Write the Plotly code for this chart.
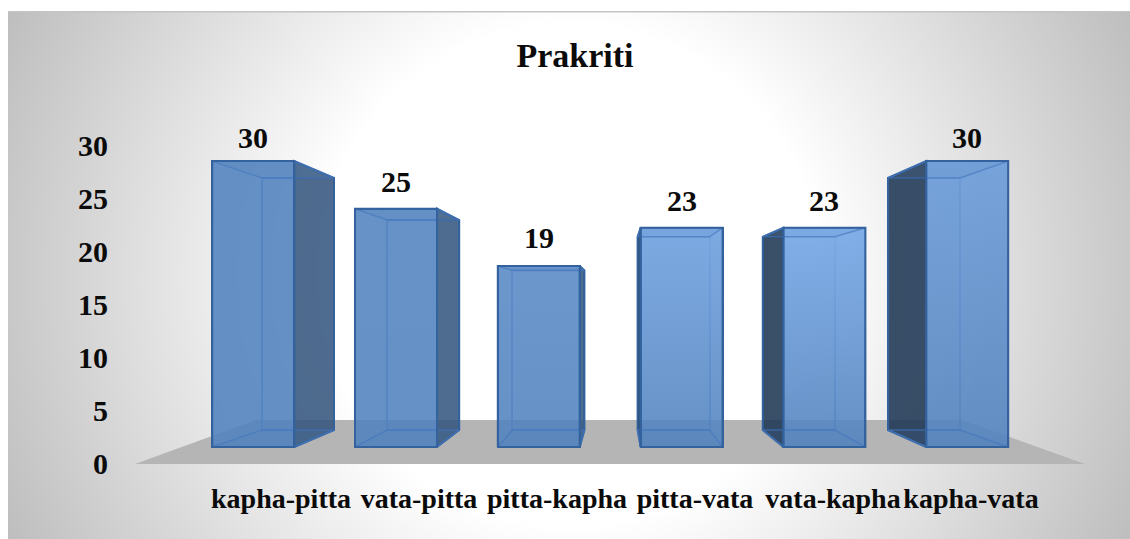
import base64
import plotly.graph_objects as go

categories = ["kapha-pitta", "vata-pitta", "pitta-kapha", "pitta-vata", "vata-kapha", "kapha-vata"]
values = [30, 25, 19, 23, 23, 30]
y_ticks = [0, 5, 10, 15, 20, 25, 30]
title_text = "Prakriti"
label_lift = [24, 27, 28, 27, 27, 24]
side_colors = ["rgba(53,86,126,.87)", "rgba(53,86,126,.87)", "rgba(53,86,126,.87)",
               "rgba(30,54,83,.87)", "rgba(30,54,83,.87)", "rgba(30,54,83,.87)"]
sheen = [0.0, 0.02, 0.12, 0.5, 0.6, 0.4]

W, H = 1130, 539
FONT = "Liberation Serif"
INK = "#0b0b0b"
EDGE = "#33629d"
INNER = "rgba(70,120,190,.65)"

# The 3-D look is three planes, each with its own linear scale (pixels per unit).
FRONT = dict(x0=253.2, dx=142.8, half=41.0, y0=447.0, sy=9.53)
BACK = dict(x0=298.0, dx=125.2, half=36.0, y0=430.0, sy=8.4)
AXIS = dict(x0=281.0, dx=138.0, y0=463.0, sy=10.6)


def xrange_of(p):
    return [(0 - p["x0"]) / p["dx"], (W - p["x0"]) / p["dx"]]


def yrange_of(p):
    return [(p["y0"] - H) / p["sy"], p["y0"] / p["sy"]]


def back_to_front(i, side, v):
    """A back-plane bar corner, re-expressed in front-plane axis units."""
    px = BACK["x0"] + BACK["dx"] * i + side * BACK["half"]
    py = BACK["y0"] - BACK["sy"] * v
    return (px - FRONT["x0"]) / FRONT["dx"], (FRONT["y0"] - py) / FRONT["sy"]


def front_corner(i, side, v):
    return i + side * FRONT["half"] / FRONT["dx"], v


def quad(a, b, c, d, fill, line, width, xa="x3", ya="y3"):
    xs, ys = zip(a, b, c, d, a)
    return go.Scatter(x=xs, y=ys, xaxis=xa, yaxis=ya, mode="lines", fill="toself",
                      fillcolor=fill, line=dict(color=line, width=width),
                      hoverinfo="skip", showlegend=False)


svg = f"""<svg xmlns="http://www.w3.org/2000/svg" width="{W}" height="{H}">
<defs><radialGradient id="g" gradientUnits="userSpaceOnUse" cx="569" cy="275" r="625">
<stop offset="0.4" stop-color="#ffffff"/><stop offset="1" stop-color="#bdbdbd"/></radialGradient></defs>
<rect width="{W}" height="{H}" fill="#ffffff"/>
<rect x="8" y="12" width="{W-8}" height="{H-12}" fill="url(#g)"/>
<rect x="8" y="11" width="{W-8}" height="1.5" fill="#c4c4c4"/>
</svg>"""
bg_uri = "data:image/svg+xml;base64," + base64.b64encode(svg.encode()).decode()

n = len(categories)
idx = list(range(n))
fig = go.Figure()

# Axis-only trace so the tick axes exist in the base subplot.
fig.add_trace(go.Scatter(x=idx, y=values, mode="markers", marker=dict(opacity=0),
                         hoverinfo="skip", showlegend=False))

# Back plane
fig.add_trace(go.Bar(x=idx, y=values, xaxis="x2", yaxis="y2", width=2 * BACK["half"] / BACK["dx"],
                     marker=dict(color="rgba(79,129,189,.05)", line=dict(color=INNER, width=2)),
                     hoverinfo="skip", showlegend=False))

# Front plane
fig.add_trace(go.Bar(x=idx, y=values, xaxis="x3", yaxis="y3", width=2 * FRONT["half"] / FRONT["dx"],
                     marker=dict(color="rgba(79,129,189,.87)", line=dict(color=EDGE, width=2)),
                     hoverinfo="skip", showlegend=False))

for i, v in zip(idx, values):
    # sheen on the front face
    a = front_corner(i, -1, 0); b = front_corner(i, 1, 0)
    c = front_corner(i, 1, v); d = front_corner(i, -1, v)
    xs, ys = zip(a, b, c, d, a)
    fig.add_trace(go.Scatter(
        x=xs, y=ys, xaxis="x3", yaxis="y3", mode="lines", line=dict(width=0), fill="toself",
        fillgradient=dict(type="vertical", colorscale=[[0, "rgba(150,195,255,0)"],
                                                        [1, f"rgba(150,195,255,{sheen[i]})"]]),
        hoverinfo="skip", showlegend=False))
    # the side facing the middle of the chart is the dark one
    s = 1 if i < n / 2 else -1
    fig.add_trace(quad(front_corner(i, s, 0), back_to_front(i, s, 0), back_to_front(i, s, v),
                       front_corner(i, s, v), side_colors[i], EDGE, 2))
    # top and floor faces (outlines with a slight tint)
    fig.add_trace(quad(front_corner(i, -1, v), front_corner(i, 1, v), back_to_front(i, 1, v),
                       back_to_front(i, -1, v), "rgba(79,129,189,.10)", INNER, 1.5))
    fig.add_trace(quad(front_corner(i, -1, 0), front_corner(i, 1, 0), back_to_front(i, 1, 0),
                       back_to_front(i, -1, 0), "rgba(79,129,189,.10)", INNER, 1.5))

# Re-stroke the front rectangles' edges on top of the side faces.
for i, v in zip(idx, values):
    fig.add_trace(quad(front_corner(i, -1, 0), front_corner(i, 1, 0), front_corner(i, 1, v),
                       front_corner(i, -1, v), "rgba(0,0,0,0)", EDGE, 2))

annotations = [
    dict(x=i, y=v, xref="x3", yref="y3", text=str(v), showarrow=False, yshift=label_lift[i],
         yanchor="middle", font=dict(family=FONT, size=30, color=INK, weight=700))
    for i, v in zip(idx, values)
]

hidden = dict(visible=False, showgrid=False, zeroline=False, fixedrange=True)
fig.update_layout(
    width=W, height=H, margin=dict(l=0, r=0, t=0, b=0, pad=0), autosize=False,
    paper_bgcolor="white", plot_bgcolor="rgba(0,0,0,0)", showlegend=False, bargap=0,
    barmode="overlay",
    title=dict(text=title_text, x=575 / W, y=1 - 55 / H, xanchor="center", yanchor="middle",
               font=dict(family=FONT, size=34, color=INK, weight=700)),
    images=[dict(source=bg_uri, xref="paper", yref="paper", x=0, y=1, sizex=1, sizey=1,
                 xanchor="left", yanchor="top", sizing="stretch", layer="below")],
    shapes=[dict(type="path", xref="paper", yref="paper", layer="below", line=dict(width=0),
                 fillcolor="#b5b5b5",
                 path=f"M {135/W} {1-464/H} L {256/W} {1-420/H} L {962/W} {1-420/H} "
                      f"L {1085/W} {1-464/H} Z")],
    xaxis=dict(domain=[0, 1], range=xrange_of(AXIS), tickmode="array", tickvals=idx, ticktext=categories,
               anchor="free", position=(H - 479) / H, showgrid=False, zeroline=False, showline=False,
               ticks="", tickfont=dict(family=FONT, size=28, color=INK, weight=700), fixedrange=True),
    yaxis=dict(domain=[0, 1], range=yrange_of(AXIS), tickmode="array", tickvals=y_ticks,
               anchor="free", position=108 / W, showgrid=False, zeroline=False, showline=False,
               ticks="", tickfont=dict(family=FONT, size=30, color=INK, weight=700), fixedrange=True),
    xaxis2=dict(domain=[0, 1], overlaying="x", range=xrange_of(BACK), anchor="y2", **hidden),
    yaxis2=dict(domain=[0, 1], overlaying="y", range=yrange_of(BACK), anchor="x2", **hidden),
    xaxis3=dict(domain=[0, 1], overlaying="x", range=xrange_of(FRONT), anchor="y3", **hidden),
    yaxis3=dict(domain=[0, 1], overlaying="y", range=yrange_of(FRONT), anchor="x3", **hidden),
    annotations=annotations,
)

fig.write_html("out.html", post_script="document.body.style.margin='0';document.body.style.overflow='hidden';",
               config=dict(displayModeBar=False))
